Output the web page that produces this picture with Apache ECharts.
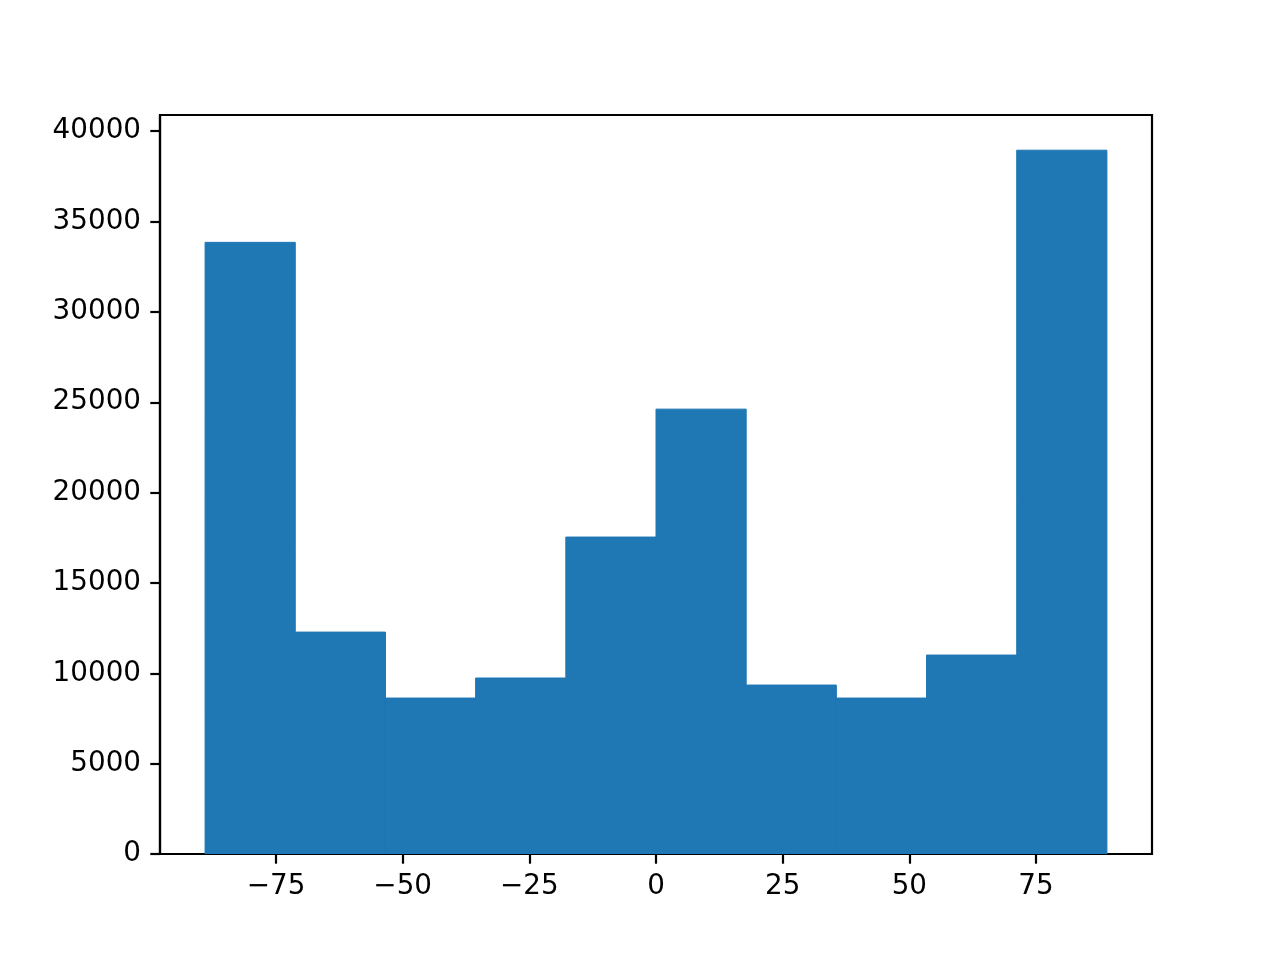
<!DOCTYPE html>
<html>
<head>
<meta charset="utf-8">
<script src="https://cdn.jsdelivr.net/npm/echarts@6/dist/echarts.min.js"></script>
<style>html,body{margin:0;padding:0;background:#fff;}#c{width:1280px;height:960px;}</style>
</head>
<body>
<div id="c"></div>
<script>
// Histogram bin edges (left/right) and counts
const binLeft  = [-89.0, -71.2, -53.4, -35.6, -17.8, 0.0, 17.8, 35.6, 53.4, 71.2];
const binRight = [-71.2, -53.4, -35.6, -17.8, 0.0, 17.8, 35.6, 53.4, 71.2, 89.0];
const counts   = [33850, 12280, 8630, 9740, 17540, 24620, 9350, 8630, 11010, 38950];
const xTicks = [-75, -50, -25, 0, 25, 50, 75];
const yTicks = [0, 5000, 10000, 15000, 20000, 25000, 30000, 35000, 40000];

const data = binLeft.map((l, i) => [l, binRight[i], counts[i]]);
const xMin = -97.9, xMax = 97.9;
const yMax = 38950 * 1.05;

const font = {fontFamily: 'DejaVu Sans', fontSize: 27.8, color: '#000'};
const chart = echarts.init(document.getElementById('c'), null, {renderer: 'canvas'});
chart.setOption({
  animation: false,
  backgroundColor: '#fff',
  grid: {left: 160, right: 128, top: 115, bottom: 106, show: true, borderColor: '#000', borderWidth: 2.2, backgroundColor: 'transparent'},
  xAxis: {
    type: 'value', min: xMin, max: xMax,
    splitLine: {show: false},
    axisLine: {show: true, onZero: false, lineStyle: {color: '#000', width: 2.2}},
    axisTick: {show: true, inside: false, length: 9.7, lineStyle: {color: '#000', width: 2.2}, customValues: xTicks},
    axisLabel: Object.assign({margin: 19, customValues: xTicks, formatter: v => String(v).replace('-', '\u2212')}, font)
  },
  yAxis: {
    type: 'value', min: 0, max: yMax,
    splitLine: {show: false},
    axisLine: {show: true, onZero: false, lineStyle: {color: '#000', width: 2.2}},
    axisTick: {show: true, inside: false, length: 9.7, lineStyle: {color: '#000', width: 2.2}, customValues: yTicks},
    axisLabel: Object.assign({margin: 19, customValues: yTicks, formatter: v => String(v), padding: [10, 0, 0, 0]}, font)
  },
  series: [{
    type: 'custom',
    data: data,
    encode: {x: [0, 1], y: 2},
    clip: true,
    renderItem: function (params, api) {
      const p0 = api.coord([api.value(0), api.value(2)]);
      const p1 = api.coord([api.value(1), 0]);
      return {
        type: 'rect',
        shape: {x: p0[0], y: p0[1], width: p1[0] - p0[0], height: p1[1] - p0[1]},
        style: {fill: '#1f77b4', stroke: '#1f77b4', lineWidth: 1}
      };
    }
  }]
});
</script>
</body>
</html>
